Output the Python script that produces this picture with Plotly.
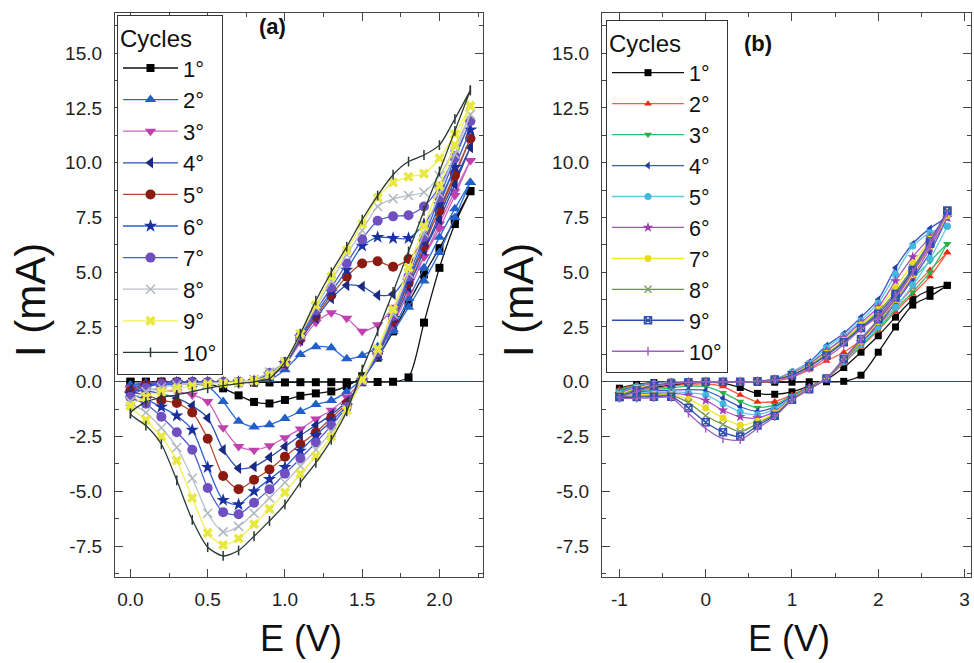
import plotly.graph_objects as go

# ---------------- data: panel (a) ----------------
E_a = [0.0, 0.1, 0.2, 0.3, 0.4, 0.5, 0.6, 0.7, 0.8, 0.9, 1.0, 1.1,
       1.2, 1.3, 1.4, 1.5, 1.6, 1.7, 1.8, 1.9, 2.0, 2.1, 2.2]

# forward (anodic) sweeps, ascending E
a_f1 = [0.0, 0.0, 0.0, 0.0, 0.0, -0.02, -0.03, -0.03, -0.03, -0.03, -0.03, -0.02, -0.02, -0.02, -0.02, -0.02, -0.01, 0.0, 0.2, 2.7, 5.2, 7.2, 8.7]
a_f2 = [-0.15, -0.05, -0.02, -0.02, -0.02, -0.02, -0.02, -0.01, 0.0, 0.1, 0.55, 1.25, 1.6, 1.55, 1.05, 1.2, 1.6, 2.3, 3.4, 4.6, 5.9, 7.5, 9.1]
a_f3 = [-0.3, -0.1, -0.03, -0.02, -0.02, -0.02, -0.02, -0.01, 0.0, 0.2, 0.75, 1.8, 2.7, 3.15, 2.9, 2.3, 2.6, 3.4, 4.5, 5.7, 7.0, 8.5, 10.1]
a_f4 = [-0.35, -0.12, -0.04, -0.02, -0.02, -0.02, -0.02, -0.01, 0.0, 0.25, 0.8, 1.9, 2.9, 3.8, 4.4, 4.35, 3.95, 4.0, 4.9, 6.0, 7.4, 9.0, 10.7]
a_f5 = [-0.45, -0.15, -0.05, -0.02, -0.02, -0.02, -0.02, -0.01, 0.0, 0.3, 0.85, 2.0, 3.0, 3.95, 4.8, 5.4, 5.5, 5.25, 5.6, 6.5, 7.8, 9.4, 11.1]
a_f6 = [-0.55, -0.2, -0.07, -0.03, -0.02, -0.02, -0.02, -0.01, 0.02, 0.35, 0.85, 2.05, 3.1, 4.1, 5.1, 6.2, 6.6, 6.55, 6.55, 7.2, 8.3, 9.8, 11.5]
a_f7 = [-0.7, -0.28, -0.1, -0.05, -0.03, -0.02, -0.02, -0.01, 0.05, 0.4, 0.9, 2.1, 3.25, 4.3, 5.4, 6.5, 7.35, 7.55, 7.6, 8.0, 8.9, 10.3, 11.9]
a_f8 = [-0.9, -0.45, -0.25, -0.15, -0.1, -0.06, -0.03, 0.0, 0.1, 0.45, 0.9, 2.15, 3.4, 4.6, 5.8, 6.9, 8.0, 8.35, 8.5, 8.65, 9.4, 10.7, 12.2]
a_f9 = [-1.1, -0.7, -0.45, -0.3, -0.2, -0.12, -0.07, -0.02, 0.05, 0.3, 0.9, 2.2, 3.5, 4.8, 6.0, 7.2, 8.4, 9.1, 9.35, 9.5, 10.2, 11.3, 12.6]
a_f10 = [-1.45, -0.92, -0.72, -0.6, -0.45, -0.3, -0.18, -0.08, 0.0, 0.15, 0.9, 2.2, 3.7, 5.0, 6.16, 7.4, 8.5, 9.45, 10.05, 10.35, 10.8, 12.0, 13.3]

# reverse (cathodic) sweeps, listed in ascending E
a_r1 = [0.0, 0.0, 0.0, -0.01, -0.03, -0.08, -0.3, -0.62, -0.92, -0.99, -0.83, -0.64, -0.53, -0.44, -0.2, 0.25, 1.1, 2.3, 3.6, 4.9, 6.1, 7.4, 8.7]
a_r2 = [-0.15, -0.14, -0.13, -0.12, -0.12, -0.2, -0.9, -1.8, -2.06, -1.96, -1.68, -1.36, -1.04, -0.86, -0.45, 0.15, 1.1, 2.4, 3.8, 5.2, 6.6, 7.9, 9.1]
a_r3 = [-0.3, -0.33, -0.38, -0.45, -0.6, -0.9, -2.1, -2.95, -3.12, -2.92, -2.55, -2.15, -1.7, -1.3, -0.7, 0.1, 1.2, 2.6, 4.1, 5.7, 7.2, 8.7, 10.1]
a_r4 = [-0.35, -0.42, -0.55, -0.75, -1.1, -1.65, -3.1, -3.95, -3.87, -3.45, -2.95, -2.45, -1.98, -1.5, -0.9, 0.05, 1.2, 2.7, 4.3, 6.0, 7.6, 9.2, 10.7]
a_r5 = [-0.45, -0.6, -0.85, -0.97, -1.4, -2.6, -4.3, -4.9, -4.47, -4.0, -3.42, -2.85, -2.32, -1.65, -1.0, 0.05, 1.3, 2.8, 4.5, 6.2, 7.9, 9.5, 11.1]
a_r6 = [-0.55, -0.8, -1.15, -1.55, -2.2, -3.9, -5.4, -5.6, -5.0, -4.45, -3.9, -3.15, -2.45, -1.8, -1.1, 0.05, 1.3, 2.9, 4.6, 6.4, 8.1, 9.8, 11.5]
a_r7 = [-0.7, -1.0, -1.6, -2.3, -3.1, -4.85, -5.95, -6.05, -5.52, -4.9, -4.2, -3.5, -2.77, -2.0, -1.15, 0.05, 1.35, 3.0, 4.8, 6.6, 8.4, 10.2, 11.9]
a_r8 = [-0.9, -1.4, -2.1, -3.0, -4.4, -6.0, -6.85, -6.6, -6.0, -5.3, -4.6, -3.85, -3.1, -2.3, -1.25, 0.05, 1.4, 3.1, 4.95, 6.8, 8.6, 10.4, 12.2]
a_r9 = [-1.1, -1.75, -2.5, -3.6, -5.3, -6.9, -7.45, -7.15, -6.5, -5.8, -5.05, -4.2, -3.4, -2.5, -1.3, 0.1, 1.5, 3.3, 5.2, 7.1, 8.95, 10.8, 12.6]
a_r10 = [-1.45, -2.0, -2.85, -4.5, -6.3, -7.55, -7.95, -7.7, -7.05, -6.35, -5.6, -4.6, -3.7, -2.65, -1.35, 0.55, 2.3, 4.1, 5.95, 7.8, 9.6, 11.45, 13.3]

# ---------------- data: panel (b) ----------------
E_b = [-1.0, -0.8, -0.6, -0.4, -0.2, 0.0, 0.2, 0.4, 0.6, 0.8,
       1.0, 1.2, 1.4, 1.6, 1.8, 2.0, 2.2, 2.4, 2.6, 2.8]

b_f1 = [-0.3, -0.12, -0.04, -0.02, -0.02, -0.02, -0.02, -0.02, -0.02, -0.02, -0.02, 0.0, 0.0, 0.02, 0.3, 1.35, 2.5, 3.5, 3.9, 4.4]
b_f2 = [-0.35, -0.15, -0.05, -0.02, 0.0, 0.0, 0.0, 0.0, 0.0, 0.02, 0.2, 0.55, 0.95, 1.35, 1.9, 2.6, 3.4, 4.3, 5.1, 5.9]
b_f3 = [-0.4, -0.18, -0.06, -0.02, 0.0, 0.0, 0.0, 0.0, 0.02, 0.1, 0.35, 0.8, 1.4, 2.0, 2.5, 3.0, 3.8, 4.7, 5.5, 6.3]
b_f4 = [-0.45, -0.2, -0.07, -0.02, 0.0, 0.0, 0.0, 0.0, 0.02, 0.12, 0.45, 0.9, 1.65, 2.2, 2.95, 3.75, 5.2, 6.3, 7.0, 7.5]
b_f5 = [-0.5, -0.22, -0.08, -0.03, 0.0, 0.0, 0.0, 0.0, 0.02, 0.12, 0.45, 0.85, 1.55, 2.1, 2.8, 3.6, 4.9, 6.2, 6.8, 7.1]
b_f6 = [-0.55, -0.25, -0.1, -0.04, -0.01, 0.0, 0.0, 0.0, 0.02, 0.1, 0.4, 0.8, 1.4, 2.0, 2.7, 3.4, 4.6, 5.7, 6.6, 7.5]
b_f7 = [-0.6, -0.3, -0.12, -0.05, -0.01, 0.0, 0.0, 0.0, 0.02, 0.1, 0.35, 0.75, 1.3, 1.9, 2.6, 3.3, 4.3, 5.4, 6.5, 7.6]
b_f8 = [-0.65, -0.35, -0.15, -0.06, -0.02, 0.0, 0.0, 0.0, 0.02, 0.1, 0.3, 0.7, 1.25, 1.85, 2.5, 3.2, 4.1, 5.2, 6.4, 7.7]
b_f9 = [-0.7, -0.4, -0.18, -0.08, -0.02, 0.0, 0.0, 0.0, 0.02, 0.1, 0.3, 0.7, 1.2, 1.8, 2.45, 3.1, 4.0, 5.1, 6.3, 7.8]
b_f10 = [-0.75, -0.45, -0.2, -0.1, -0.03, 0.0, 0.0, 0.0, 0.02, 0.08, 0.25, 0.6, 1.1, 1.7, 2.4, 3.0, 3.9, 5.0, 6.2, 7.7]

b_r1 = [-0.3, -0.3, -0.25, -0.15, -0.08, -0.03, -0.06, -0.26, -0.53, -0.57, -0.46, -0.2, 0.1, 0.65, 1.35, 2.1, 2.95, 3.75, 4.2, 4.4]
b_r2 = [-0.35, -0.34, -0.3, -0.2, -0.12, -0.1, -0.22, -0.6, -0.92, -0.9, -0.6, -0.22, 0.15, 0.85, 1.6, 2.35, 3.2, 4.0, 4.8, 5.9]
b_r3 = [-0.4, -0.4, -0.36, -0.28, -0.2, -0.22, -0.5, -0.9, -1.18, -1.05, -0.63, -0.25, 0.15, 0.9, 1.65, 2.4, 3.3, 4.1, 5.0, 6.3]
b_r4 = [-0.45, -0.45, -0.42, -0.38, -0.36, -0.4, -0.75, -1.14, -1.35, -1.15, -0.68, -0.27, 0.15, 0.95, 1.75, 2.6, 3.6, 4.7, 5.9, 7.5]
b_r5 = [-0.5, -0.5, -0.48, -0.46, -0.5, -0.6, -1.0, -1.37, -1.5, -1.25, -0.72, -0.28, 0.15, 0.9, 1.7, 2.5, 3.4, 4.4, 5.6, 7.1]
b_r6 = [-0.55, -0.55, -0.53, -0.52, -0.62, -0.85, -1.3, -1.6, -1.65, -1.35, -0.75, -0.3, 0.15, 0.95, 1.8, 2.7, 3.7, 4.8, 6.1, 7.5]
b_r7 = [-0.6, -0.6, -0.58, -0.58, -0.8, -1.2, -1.65, -1.98, -1.8, -1.42, -0.78, -0.32, 0.15, 1.0, 1.85, 2.75, 3.75, 4.9, 6.2, 7.6]
b_r8 = [-0.65, -0.65, -0.63, -0.63, -0.95, -1.55, -1.95, -2.28, -1.9, -1.5, -0.8, -0.33, 0.15, 1.0, 1.9, 2.8, 3.8, 5.0, 6.3, 7.7]
b_r9 = [-0.7, -0.7, -0.68, -0.68, -1.2, -1.85, -2.3, -2.5, -2.0, -1.55, -0.82, -0.34, 0.15, 1.05, 1.95, 2.85, 3.85, 5.05, 6.4, 7.8]
b_r10 = [-0.75, -0.75, -0.73, -0.72, -1.44, -2.13, -2.6, -2.65, -2.13, -1.6, -0.84, -0.35, 0.15, 1.05, 1.95, 2.85, 3.85, 5.0, 6.35, 7.7]

cycle_names = ["1°", "2°", "3°", "4°", "5°", "6°", "7°", "8°", "9°", "10°"]
x_ticks_a = [0.0, 0.5, 1.0, 1.5, 2.0]
x_ticks_b = [-1, 0, 1, 2, 3]
y_ticks = [-7.5, -5.0, -2.5, 0.0, 2.5, 5.0, 7.5, 10.0, 12.5, 15.0]

A_fwd = [a_f1, a_f2, a_f3, a_f4, a_f5, a_f6, a_f7, a_f8, a_f9, a_f10]
A_rev = [a_r1, a_r2, a_r3, a_r4, a_r5, a_r6, a_r7, a_r8, a_r9, a_r10]
B_fwd = [b_f1, b_f2, b_f3, b_f4, b_f5, b_f6, b_f7, b_f8, b_f9, b_f10]
B_rev = [b_r1, b_r2, b_r3, b_r4, b_r5, b_r6, b_r7, b_r8, b_r9, b_r10]

# ---------------- styles ----------------
a_line = ["#111111", "#2a6ad8", "#c865c0", "#2a4fb0", "#b04a30", "#2a60d0", "#4a5ad0", "#b8c0c8", "#f2f050", "#2a3a30"]
a_mark = ["#000000", "#2060c8", "#c040b0", "#1a2a80", "#8b1a10", "#1a30a0", "#7050c0", "#b0b8c0", "#e8e840", "#2a3a30"]
a_sym = ["square", "triangle-up", "triangle-down", "triangle-left", "circle", "star", "circle", "x-thin", "x", "line-ns"]
a_size = [8, 10, 10, 10, 10, 10, 10, 9, 9, 7]

b_line = ["#111111", "#ff5a3a", "#30c070", "#3a5ac8", "#60c8e8", "#b050c0", "#f0e830", "#70963c", "#3050b0", "#a060c0"]
b_mark = ["#000000", "#ee2a10", "#28b040", "#2040b0", "#40b8e0", "#a040b0", "#e8d820", "#80a060", "#3050b0", "#a060c0"]
b_sym = ["square", "triangle-up", "triangle-down", "triangle-left", "circle", "star", "circle", "x-thin", "square-x-open", "line-ns"]
b_size = [7, 7, 7, 7, 7, 8, 7, 7, 7, 6]

W, H = 974, 663


def px(xp):
    return xp / W


def py(yp):
    return 1 - yp / H


fig = go.Figure()


def add_panel(E, F, R, lcol, mcol, syms, sizes, xa, ya, leg):
    for i in range(10):
        x = list(E) + list(E)[::-1]
        y = list(F[i]) + list(R[i])[::-1]
        thin = syms[i] in ("x-thin", "line-ns", "square-x-open")
        fig.add_trace(go.Scatter(
            x=x, y=y, mode="lines+markers", name=cycle_names[i],
            line=dict(color=lcol[i], width=1.3, shape="spline", smoothing=0.7),
            marker=dict(symbol=syms[i], size=sizes[i], color=mcol[i],
                        line=dict(width=1.5 if thin else 0, color=mcol[i])),
            xaxis=xa, yaxis=ya, legend=leg))


add_panel(E_a, A_fwd, A_rev, a_line, a_mark, a_sym, a_size, "x", "y", "legend")
add_panel(E_b, B_fwd, B_rev, b_line, b_mark, b_sym, b_size, "x2", "y2", "legend2")

axis_common = dict(showline=True, linecolor="#444", linewidth=1.2, mirror="allticks",
                   ticks="inside", ticklen=8, tickwidth=1.2, tickcolor="#444",
                   showgrid=False, tickfont=dict(family="Arial", size=19, color="#222"),
                   ticklabeloverflow="allow")

y_top, y_bot = 16.83, -8.91
ydom = [py(577), py(13)]

fig.update_layout(
    width=W, height=H, margin=dict(l=0, r=0, t=0, b=0),
    paper_bgcolor="white", plot_bgcolor="white",
    xaxis=dict(domain=[px(115), px(483)], range=[-0.100, 2.282], tickvals=x_ticks_a,
               ticktext=["%.1f" % v for v in x_ticks_a], zeroline=False,
               minor=dict(dtick=0.25, ticks="inside", ticklen=4, tickcolor="#444"),
               anchor="y", ticklabelstandoff=5, **axis_common),
    yaxis=dict(domain=ydom, range=[y_bot, y_top], tickvals=y_ticks,
               ticktext=["%.1f" % v for v in y_ticks],
               zeroline=True, zerolinecolor="#34505a", zerolinewidth=1,
               minor=dict(dtick=1.25, ticks="inside", ticklen=4, tickcolor="#444"),
               anchor="x", ticklabelstandoff=8, **axis_common),
    xaxis2=dict(domain=[px(602), px(971)], range=[-1.202, 3.075], tickvals=x_ticks_b,
                ticktext=[str(v) for v in x_ticks_b], zeroline=False,
                minor=dict(dtick=0.5, ticks="inside", ticklen=4, tickcolor="#444"),
                anchor="y2", ticklabelstandoff=5, **axis_common),
    yaxis2=dict(domain=ydom, range=[y_bot, y_top], tickvals=y_ticks,
                ticktext=["%.1f" % v for v in y_ticks],
                zeroline=True, zerolinecolor="#34505a", zerolinewidth=1,
                minor=dict(dtick=1.25, ticks="inside", ticklen=4, tickcolor="#444"),
                anchor="x2", ticklabelstandoff=8, **axis_common),
    legend=dict(x=px(117), y=py(15), xanchor="left", yanchor="top",
                bgcolor="white", bordercolor="#333", borderwidth=1,
                font=dict(family="Arial", size=22, color="#111"),
                title=dict(text="Cycles", font=dict(family="Arial", size=24, color="#111")),
                itemwidth=55, tracegroupgap=0),
    legend2=dict(x=px(606), y=py(20), xanchor="left", yanchor="top",
                 bgcolor="white", bordercolor="#333", borderwidth=1,
                 font=dict(family="Arial", size=21.5, color="#111"),
                 title=dict(text="Cycles", font=dict(family="Arial", size=24, color="#111")),
                 itemwidth=72, tracegroupgap=0),
    showlegend=True,
)

ann_font = dict(family="Arial", color="#111")
fig.add_annotation(x=px(272), y=py(27), xref="paper", yref="paper", text="<b>(a)</b>",
                   xanchor="center", yanchor="middle", showarrow=False,
                   font=dict(size=22, **ann_font))
fig.add_annotation(x=px(758), y=py(44), xref="paper", yref="paper", text="<b>(b)</b>",
                   xanchor="center", yanchor="middle", showarrow=False,
                   font=dict(size=22, **ann_font))
for xc in (31, 519):
    fig.add_annotation(x=px(xc), y=py(300), xref="paper", yref="paper", text="I (mA)",
                       textangle=-90, xanchor="center", yanchor="middle", showarrow=False,
                       font=dict(size=42, **ann_font))
for xc in (301, 789):
    fig.add_annotation(x=px(xc), y=py(638), xref="paper", yref="paper", text="E (V)",
                       xanchor="center", yanchor="middle", showarrow=False,
                       font=dict(size=36, **ann_font))

# remove the default 8px page margin so the 974x663 figure fills the window exactly
fig.write_html("out.html", config={"displayModeBar": False},
               post_script="document.body.style.margin='0px';")
